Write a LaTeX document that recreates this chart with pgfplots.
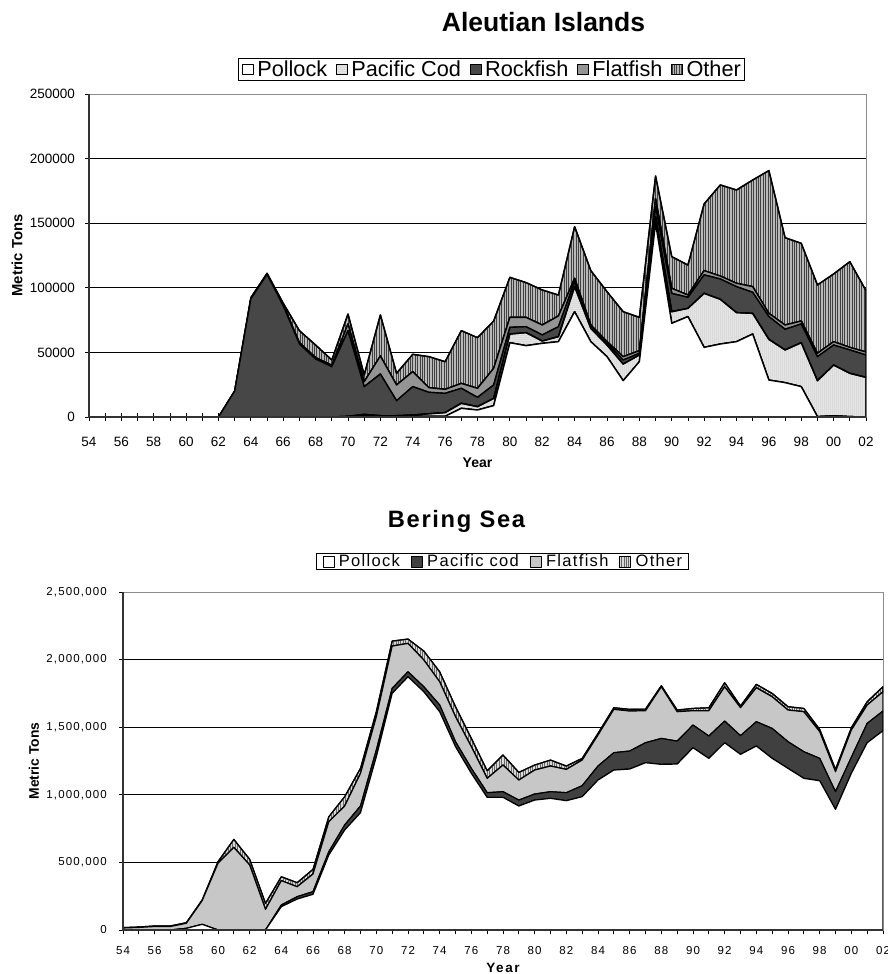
\documentclass[border=0pt]{standalone}
\usepackage{fontspec}
\setmainfont{Liberation Sans}
\newfontfamily\tickspaced[LetterSpace=10]{Liberation Sans}
\newfontfamily\legspaced[LetterSpace=8]{Liberation Sans}
\newfontfamily\titlespaced[LetterSpace=7]{Liberation Sans}
\newfontfamily\yearspaced[LetterSpace=12]{Liberation Sans}
\usepackage{pgfplots}
\pgfplotsset{compat=1.18}
\usepackage{pgfplotstable}
\usetikzlibrary{patterns,patterns.meta}

\pgfplotstableread{
year P C R F O
1954 0 0 0 0 0
1955 0 0 0 0 0
1956 0 0 0 0 0
1957 0 0 0 0 0
1958 0 0 0 0 0
1959 0 0 0 0 0
1960 0 0 0 0 0
1961 0 0 0 0 0
1962 0 0 0 0 0
1963 0 0 20100 0 0
1964 0 0 91500 0 900
1965 0 0 110500 0 700
1966 0 0 86000 500 1500
1967 0 0 56500 1000 9300
1968 0 0 44900 1100 9700
1969 0 0 39000 1000 4100
1970 0 500 66300 5200 7700
1971 1500 500 21500 3800 5200
1972 500 500 32300 13900 31800
1973 500 500 11600 12200 9000
1974 500 1000 22000 11600 13400
1975 500 2000 16600 3600 24000
1976 500 2900 14900 3100 21400
1977 6700 3900 11600 3800 40800
1978 5400 2600 7200 7000 39200
1979 8800 5600 10400 12900 36600
1980 57500 6700 5200 7700 31000
1981 55200 10100 4600 7200 26900
1982 57000 1800 4700 7700 27100
1983 58300 3900 7700 8300 16200
1984 81500 19400 3800 2600 40000
1985 58300 10300 1300 1300 42100
1986 46700 9000 1300 1300 38700
1987 28100 12900 3100 2600 34800
1988 42800 5200 1300 2000 25800
1989 150000 5000 8000 6000 17500
1990 72500 9000 14200 3900 24500
1991 77700 6400 8500 1800 23200
1992 53900 41800 14300 3300 51600
1993 56500 34600 15700 2300 70500
1994 58300 22500 20100 2600 72200
1995 64200 16000 16300 4400 82500
1996 28600 31500 17600 2500 110500
1997 26600 25300 16000 3300 67600
1998 23500 34000 14500 2300 60100
1999 300 27800 18600 2600 52900
2000 1000 39200 15500 2600 52400
2001 300 33500 18100 2000 66300
2002 0 30700 17300 2300 47500
}\aleutian

\pgfplotstableread{
year P C F O
1954 0 0 15000 3000
1955 0 0 19000 3000
1956 0 0 26000 4000
1957 0 0 26000 4000
1958 12000 0 38000 4000
1959 42000 0 175000 5000
1960 0 0 493000 12000
1961 0 0 611000 59000
1962 0 0 481000 42000
1963 0 0 153000 44000
1964 172500 12500 180000 29000
1965 229000 17500 73500 30000
1966 263800 19700 130500 34600
1967 554600 24400 222000 37000
1968 739500 37000 140500 69000
1969 867700 49300 241600 36900
1970 1281800 49200 246600 37000
1971 1750000 37000 313000 37000
1972 1873000 37000 210000 32000
1973 1762000 37000 198000 66000
1974 1614600 49400 172000 74000
1975 1355700 37000 184900 74000
1976 1158600 36900 160200 61300
1977 981000 34600 106000 56400
1978 981000 42000 197000 74000
1979 917000 44000 148000 57000
1980 961000 44700 177300 37000
1981 973700 49300 189800 44200
1982 956400 59200 172400 24800
1983 986000 81300 189700 12500
1984 1109000 103800 229200 12000
1985 1183000 128400 320600 12000
1986 1190600 133100 295800 12500
1987 1237400 147600 237000 12000
1988 1225000 192000 382000 7800
1989 1227600 169400 217600 12400
1990 1348000 168000 106000 17000
1991 1269500 165100 187400 22000
1992 1385000 160500 253500 30000
1993 1299000 138000 207000 12500
1994 1361000 179600 251400 24700
1995 1269500 221500 234000 25000
1996 1195500 197200 234300 24600
1997 1121600 197200 295800 24400
1998 1104000 165500 197500 17000
1999 892000 131000 148000 17000
2000 1158600 118400 202000 17000
2001 1385000 143300 135700 24500
2002 1474000 145500 142500 37500
}\bering

\pgfplotsset{
  mychart/.style={
    scale only axis, anchor=north west,
    xmin=1954, xmax=2002, ymin=0,
    stack plots=y,
    xtick={1954,1955,...,2002},
    xticklabels={54,,56,,58,,60,,62,,64,,66,,68,,70,,72,,74,,76,,78,,80,,82,,84,,86,,88,,90,,92,,94,,96,,98,,00,,02},
    xtick pos=bottom, ytick pos=left,
    tick align=center, major tick length=8pt,
    tick style={black, line width=0.8pt},
    ymajorgrids, grid style={black, line width=0.7pt},
    axis line style={black!45, line width=1pt},
    scaled y ticks=false,
    /pgf/number format/assume math mode=true,
    every axis plot/.append style={draw=black, line width=1.4pt, line join=round},
    after end axis/.code={\draw[black!80, line width=1.6pt] (rel axis cs:0,1) -- (rel axis cs:0,0) -- (rel axis cs:1,0);},
  }
}

\begin{document}
\begin{tikzpicture}
\useasboundingbox (0,0) rectangle (888pt,-974pt);
\node[anchor=base, inner sep=0pt, font=\bfseries\fontsize{26.5}{30}\selectfont] at (543.5pt,-32pt) {Aleutian Islands};
\begin{axis}[mychart,
  at={(89pt,-94pt)}, width=777pt, height=323pt,
  ymax=250000, ytick={0,50000,...,250000},
  /pgf/number format/.cd, fixed, 1000 sep={}, /pgfplots/.cd,
  tick label style={font=\fontsize{13.5}{15}\selectfont},
  x tick label style={anchor=center, yshift=-20.5pt, inner sep=0pt},
  y tick label style={anchor=east, xshift=-10pt, inner sep=0pt},
  xlabel={Year}, xlabel style={at={(axis description cs:0.5,-0.1424)}, anchor=center, font=\bfseries\fontsize{14}{16}\selectfont},
  ylabel={Metric Tons}, ylabel style={at={(axis description cs:-0.0927,0.5)}, anchor=center, font=\bfseries\fontsize{14.8}{17}\selectfont},
  legend columns=5,
  legend image code/.code={\draw[#1, draw=black, line width=0.8pt] (0pt,-5.4pt) rectangle (10.8pt,5.4pt);},
  legend style={at={(0.518,1.0759)}, anchor=center, draw=black, line width=0.8pt,
    font=\fontsize{21.7}{24}\selectfont, inner xsep=4pt, inner ysep=1.5pt,
    nodes={inner xsep=0pt, inner ysep=1pt},
    /tikz/every odd column/.append style={column sep=3.5pt},
    /tikz/every even column/.append style={column sep=9pt}},
]
\addplot[fill=white] table[x=year,y=P]{\aleutian} \closedcycle;
\addlegendentry{Pollock}
\addplot[fill=black!8, postaction={pattern={Dots[distance=2pt, radius=0.5pt]}, pattern color=black!40}] table[x=year,y=C]{\aleutian} \closedcycle;
\addlegendentry{Pacific Cod}
\addplot[fill=black!72] table[x=year,y=R]{\aleutian} \closedcycle;
\addlegendentry{Rockfish}
\addplot[fill=black!42] table[x=year,y=F]{\aleutian} \closedcycle;
\addlegendentry{Flatfish}
\addplot[fill=black!28, postaction={pattern={Lines[angle=90, distance=2.4pt, line width=0.8pt]}, pattern color=black!75}] table[x=year,y=O]{\aleutian} \closedcycle;
\addlegendentry{Other}
\end{axis}

\node[anchor=base, inner sep=0pt, font=\titlespaced\bfseries\fontsize{23.7}{27}\selectfont] at (456.5pt,-527pt) {Bering Sea};
\begin{axis}[mychart,
  at={(123pt,-592pt)}, width=760pt, height=338pt,
  ymax=2500000, ytick={0,500000,...,2500000},
  /pgf/number format/.cd, fixed, 1000 sep={,}, /pgfplots/.cd,
  tick label style={font=\tickspaced\fontsize{11.5}{13}\selectfont},
  x tick label style={anchor=center, yshift=-16.5pt, inner sep=0pt},
  y tick label style={anchor=east, xshift=-12pt, inner sep=0pt},
  every axis plot/.append style={line width=1.2pt},
  xlabel={Year}, xlabel style={at={(axis description cs:0.5,-0.1124)}, anchor=center, font=\yearspaced\bfseries\fontsize{13.5}{16}\selectfont},
  ylabel={Metric Tons}, ylabel style={at={(axis description cs:-0.1171,0.5)}, anchor=center, font=\bfseries\fontsize{13.9}{16}\selectfont},
  legend columns=4,
  legend image code/.code={\draw[#1, draw=black, line width=0.7pt] (0pt,-5.5pt) rectangle (11pt,5.5pt);},
  legend style={at={(0.4993,1.0902)}, anchor=center, draw=black, line width=0.8pt,
    font=\legspaced\fontsize{16.5}{18}\selectfont, inner xsep=6pt, inner ysep=0.5pt,
    nodes={inner xsep=0pt, inner ysep=1pt},
    /tikz/every odd column/.append style={column sep=4.5pt},
    /tikz/every even column/.append style={column sep=11pt}},
]
\addplot[fill=white] table[x=year,y=P]{\bering} \closedcycle;
\addlegendentry{Pollock}
\addplot[fill=black!75] table[x=year,y=C]{\bering} \closedcycle;
\addlegendentry{Pacific cod}
\addplot[fill=black!22] table[x=year,y=F]{\bering} \closedcycle;
\addlegendentry{Flatfish}
\addplot[fill=black!15, postaction={pattern={Lines[angle=90, distance=2.4pt, line width=0.7pt]}, pattern color=black!60}] table[x=year,y=O]{\bering} \closedcycle;
\addlegendentry{Other}
\end{axis}
\end{tikzpicture}
\end{document}
